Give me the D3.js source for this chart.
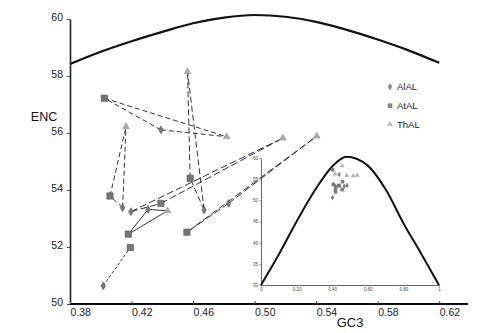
<!DOCTYPE html>
<html>
<head>
<meta charset="utf-8">
<script src="https://cdn.jsdelivr.net/npm/d3@7/dist/d3.min.js"></script>
<style>
  html, body { margin: 0; padding: 0; background: #fff; }
  svg { display: block; font-family: "Liberation Sans", Arial, sans-serif; }
</style>
</head>
<body>
<svg id="chart" width="500" height="333"></svg>
<script>
// Series names (legend order)
const seriesNames = ["AlAL", "AtAL", "ThAL"];

// One entry per ortholog group; the three species of a group are linked
const alalGC3 = [0.4391, 0.4672, 0.4142, 0.4308, 0.4016, 0.4196, 0.4830];
const alalENC = [56.11, 53.30, 53.38, 53.32, 50.64, 53.24, 53.53];
const atalGC3 = [0.4023, 0.4581, 0.4060, 0.4179, 0.4192, 0.4391, 0.4560];
const atalENC = [57.22, 54.41, 53.79, 52.45, 51.98, 53.53, 52.52];
const thalGC3 = [0.4818, 0.4564, 0.4164, 0.4434, null, 0.5183, 0.5404];
const thalENC = [55.87, 58.15, 56.22, 53.27, null, 55.82, 55.89];

// Expected ENC curve, main panel
const curveGC3 = [0.38, 0.40, 0.42, 0.44, 0.46, 0.48, 0.50, 0.52, 0.54, 0.56, 0.58, 0.60, 0.62];
const curveENC = [58.42, 58.85, 59.22, 59.55, 59.85, 60.05, 60.14, 60.08, 59.90, 59.62, 59.28, 58.90, 58.46];

// Expected ENC curve, full-range inset
const insetCurveGC3 = [0, 0.1, 0.2, 0.3, 0.4, 0.48, 0.6, 0.7, 0.8, 0.9, 1];
const insetCurveENC = [30, 37.2, 45.0, 52.2, 58.0, 60.3, 58.2, 52.6, 44.6, 37.4, 30];

// Tick labels
const xTicks = [0.38, 0.42, 0.46, 0.50, 0.54, 0.58, 0.62];
const yTicks = [50, 52, 54, 56, 58, 60];
const insetXTicks = [0, 0.2, 0.4, 0.6, 0.8, 1];
const insetYTicks = [30, 35, 40, 45, 50, 55, 60];

// Link line dash per group
const groupDash = ["5,3", "6,3", "5,3", null, "3,2", "7,3", "7,3"];

const svg = d3.select("#chart");

// ---------- main panel ----------
const x = d3.scaleLinear().domain([0.38, 0.64]).range([70, 470]);
const y = d3.scaleLinear().domain([50, 60]).range([304, 19]);

const groups = alalGC3.map((_, i) => {
  const pts = [
    { s: 0, gc: alalGC3[i], enc: alalENC[i] },
    { s: 1, gc: atalGC3[i], enc: atalENC[i] },
    { s: 2, gc: thalGC3[i], enc: thalENC[i] }
  ].filter(p => p.gc != null);
  return { i, pts };
});

// expected curve
const curveLine = d3.line().x(d => x(d[0])).y(d => y(d[1])).curve(d3.curveMonotoneX);
svg.append("path")
  .attr("d", curveLine(curveGC3.map((g, i) => [g, curveENC[i]])))
  .attr("fill", "none").attr("stroke", "#111").attr("stroke-width", 2.2);

// links between orthologs of a group
const linkG = svg.append("g");
groups.forEach(g => {
  const p = g.pts;
  for (let a = 0; a < p.length; a++) {
    for (let b = a + 1; b < p.length; b++) {
      linkG.append("line")
        .attr("x1", x(p[a].gc)).attr("y1", y(p[a].enc))
        .attr("x2", x(p[b].gc)).attr("y2", y(p[b].enc))
        .attr("stroke", "#333").attr("stroke-width", 1)
        .attr("stroke-dasharray", groupDash[g.i]);
    }
  }
});

const symbolTypes = [d3.symbolDiamond, d3.symbolSquare, d3.symbolTriangle];
const fills = ["#7a7a7a", "#767676", "#ababab"];
const strokes = ["#555", "#555", "#999"];
const mainSizes = [18, 40, 20];

const allPts = groups.flatMap(g => g.pts);
svg.append("g").selectAll("path")
  .data(allPts)
  .join("path")
  .attr("transform", d => `translate(${x(d.gc)},${y(d.enc)})`)
  .attr("d", d => d3.symbol().type(symbolTypes[d.s]).size(mainSizes[d.s])())
  .attr("fill", d => fills[d.s])
  .attr("stroke", d => strokes[d.s]).attr("stroke-width", 0.6);

// axes
const yAxis = svg.append("g").attr("transform", "translate(70,0)")
  .call(d3.axisLeft(y).tickValues(yTicks).tickSize(3).tickSizeOuter(0).tickFormat(d3.format("d")));
yAxis.select(".domain").attr("stroke", "#222").attr("stroke-width", 1.6);
yAxis.selectAll(".tick line").attr("stroke", "#444");
yAxis.selectAll("text").attr("font-size", 10.5).attr("fill", "#222")
  .attr("x", -7).attr("dy", "0.1em");

const xAxis = svg.append("g").attr("transform", "translate(0,304)")
  .call(d3.axisBottom(x).tickValues(xTicks).tickSize(-3).tickSizeOuter(0).tickFormat(d3.format(".2f")));
xAxis.select(".domain").attr("stroke", "#111").attr("stroke-width", 1.8)
  .attr("d", `M${x(0.38)},0H468`);
xAxis.selectAll(".tick line").attr("stroke", "#444");
xAxis.selectAll("text").attr("font-size", 10.5).attr("fill", "#222")
  .attr("text-anchor", "start").attr("y", 5).attr("dy", "0.71em");

svg.append("text").attr("x", 44).attr("y", 121).attr("text-anchor", "middle")
  .attr("font-size", 12.5).attr("fill", "#111").text("ENC");
svg.append("text").attr("x", 350).attr("y", 327).attr("text-anchor", "middle")
  .attr("font-size", 13).attr("fill", "#111").text("GC3");

// legend
const legendY = [86.7, 105.7, 124.3];
const legend = svg.append("g");
seriesNames.forEach((name, i) => {
  legend.append("path")
    .attr("transform", `translate(390,${legendY[i]})`)
    .attr("d", d3.symbol().type(symbolTypes[i]).size(i === 1 ? 22 : 16)())
    .attr("fill", i === 2 ? "#bbb" : "#888");
  legend.append("text").attr("x", 397).attr("y", legendY[i] + 3.6)
    .attr("font-size", 9.5).attr("fill", "#222").text(name);
});

// ---------- inset: full GC3 range ----------
const xi = d3.scaleLinear().domain([0, 1]).range([261, 439]);
const yi = d3.scaleLinear().domain([30, 60]).range([285, 158]);

const inset = svg.append("g");
const iy = inset.append("g").attr("transform", "translate(261,0)")
  .call(d3.axisLeft(yi).tickValues(insetYTicks).tickSize(1.5).tickSizeOuter(0).tickFormat(d3.format("d")));
iy.select(".domain").attr("stroke", "#666").attr("stroke-width", 1);
iy.selectAll(".tick line").attr("stroke", "#888");
iy.selectAll("text").attr("font-size", 4.5).attr("fill", "#444").attr("x", -3);

const ix = inset.append("g").attr("transform", "translate(0,285)")
  .call(d3.axisBottom(xi).tickValues(insetXTicks).tickSize(1.5).tickSizeOuter(0)
    .tickFormat(d => d === 0 ? "0" : d === 1 ? "1" : d3.format(".2f")(d)));
ix.select(".domain").attr("stroke", "#666").attr("stroke-width", 1);
ix.selectAll(".tick line").attr("stroke", "#888");
ix.selectAll("text").attr("font-size", 4.5).attr("fill", "#444").attr("y", 3);

const insetLine = d3.line().x(d => xi(d[0])).y(d => yi(d[1])).curve(d3.curveMonotoneX);
inset.append("path")
  .attr("d", insetLine(insetCurveGC3.map((g, i) => [g, insetCurveENC[i]])))
  .attr("fill", "none").attr("stroke", "#111").attr("stroke-width", 2);

const insetSizes = [9, 12, 11];
inset.append("g").selectAll("path")
  .data(allPts)
  .join("path")
  .attr("transform", d => `translate(${xi(d.gc)},${yi(d.enc)})`)
  .attr("d", d => d3.symbol().type(symbolTypes[d.s]).size(insetSizes[d.s])())
  .attr("fill", d => d.s === 2 ? "#b5b5b5" : "#7a7a7a");
</script>
</body>
</html>
